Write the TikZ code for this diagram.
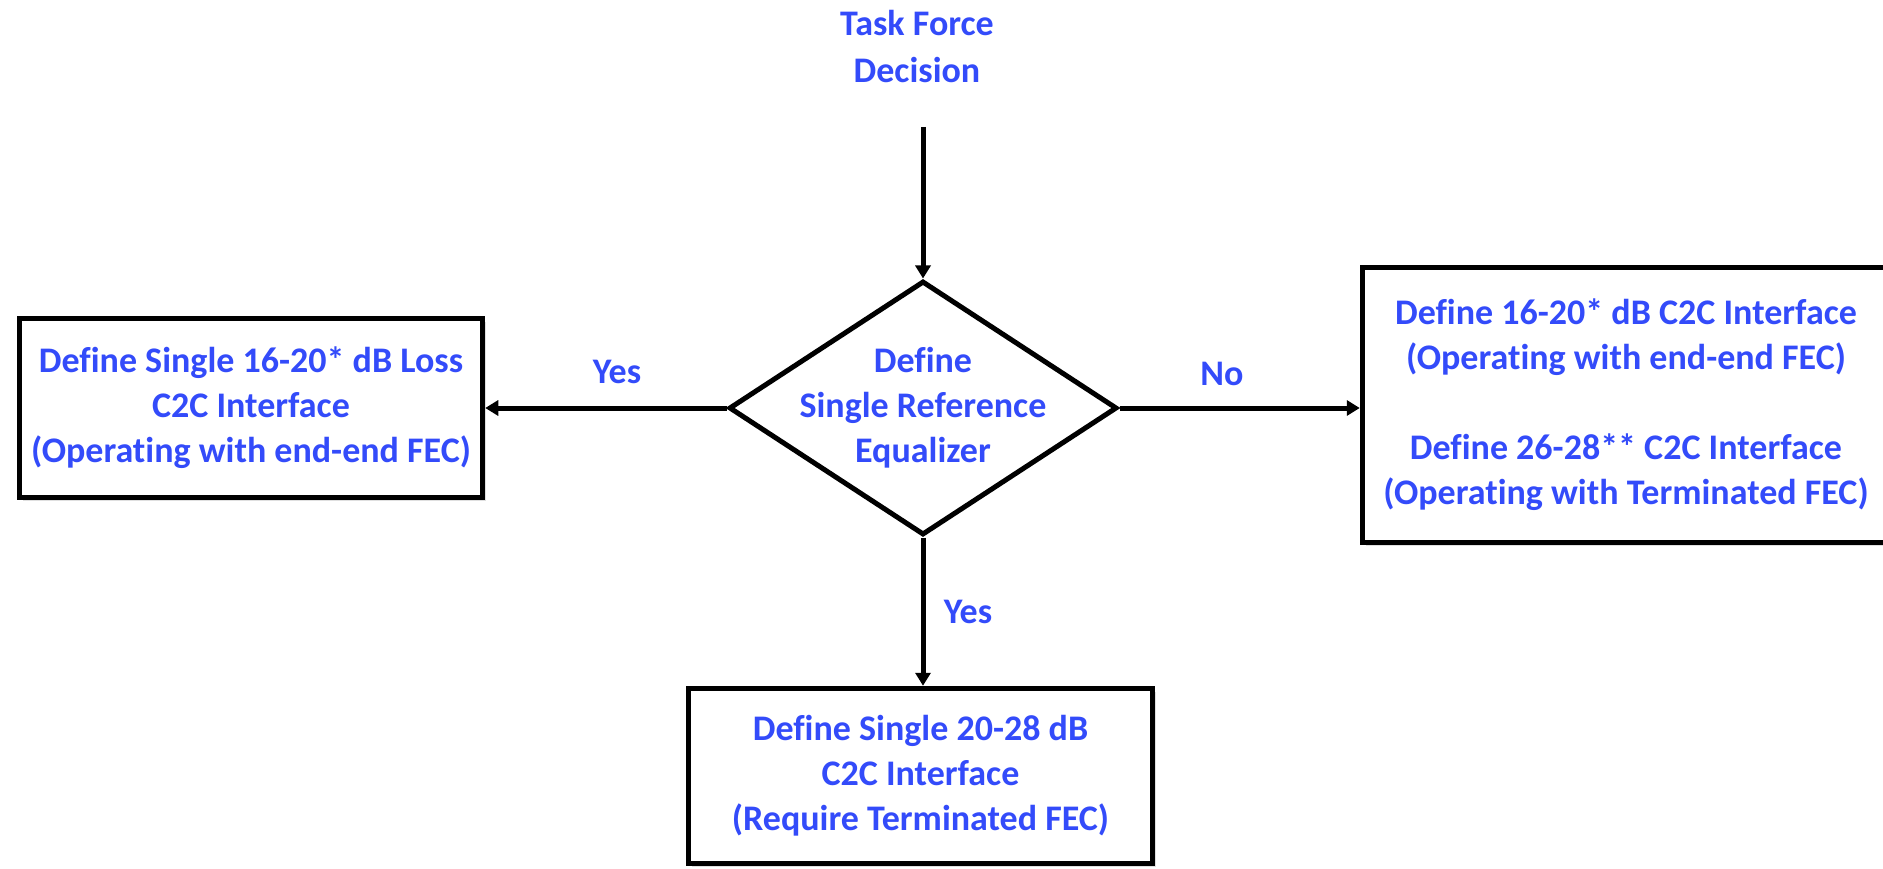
\documentclass[tikz,border=0pt]{standalone}
\usepackage{fontspec}
\setmainfont[Ligatures=NoCommon]{Carlito}
\usetikzlibrary{shapes.geometric,arrows.meta,shadows}
\definecolor{txtblue}{RGB}{51,75,250}
\tikzset{
  lbl/.style={text=txtblue, font=\fontsize{36}{45}\selectfont\bfseries, align=center, inner sep=0pt},
  boxnode/.style={draw=black, line width=5.5pt, fill=white, lbl, drop shadow={shadow xshift=3pt, shadow yshift=-3pt, opacity=0.25, fill=gray}},
  arr/.style={line width=5pt, -{Triangle[length=13pt,width=15pt]}},
}
\begin{document}
\begin{tikzpicture}[x=1pt,y=-1pt]
\useasboundingbox (0,0) rectangle (1883,869);
% top text
\node[lbl, font=\fontsize{36}{47}\selectfont\bfseries] (tf) at (917,47) {Task Force\\Decision};
\coordinate (tstart) at (923,127);
% decision diamond
\node[diamond, draw=black, line width=5pt, fill=white, minimum width=388pt, minimum height=254pt, inner sep=0pt] (dec) at (923,408) {};
\node[lbl] (dectext) at (dec.center) {Define\\Single Reference\\Equalizer};
% boxes
\node[boxnode, minimum width=463pt, minimum height=179pt] (left) at (251,408) {Define Single 16-20* dB Loss\\C2C Interface\\(Operating with end-end FEC)};
\node[boxnode, minimum width=527pt, minimum height=275pt] (right) at (1626,405) {Define 16-20* dB C2C Interface\\(Operating with end-end FEC)\\[45pt]Define 26-28** C2C Interface\\(Operating with Terminated FEC)};
\node[boxnode, minimum width=464pt, minimum height=175pt] (bottom) at (920.5,776) {Define Single 20-28 dB\\C2C Interface\\(Require Terminated FEC)};
% connectors
\draw[arr] (tstart) -- (dec.north);
\draw[arr] (dec.west) -- (left.east);
\draw[arr] (dec.east) -- (right.west |- dec.east);
\draw[arr] (dec.south) -- (dec.south |- bottom.north);
% labels
\node[lbl] (yesl) at (617,372) {Yes};
\node[lbl] (nor) at (1222,374) {No};
\node[lbl] (yesb) at (968,612) {Yes};
\end{tikzpicture}
\end{document}
